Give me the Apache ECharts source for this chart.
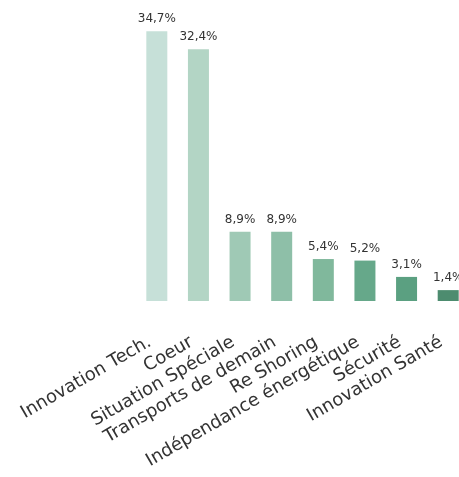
<!DOCTYPE html>
<html lang="fr">
<head>
    <meta charset="UTF-8">
    <title>Répartition</title>
    <script src="https://cdn.jsdelivr.net/npm/echarts@6/dist/echarts.min.js"></script>
    <style>
        body { margin: 0; background: #fff; }
    </style>
</head>
<body>
    <div id="main" style="width: 459px;height:477px;"></div>
    <script type="text/javascript">
        // catégories et valeurs (en %)
        var categories = ["Innovation Tech.", "Coeur", "Situation Spéciale", "Transports de demain",
            "Re Shoring", "Indépendance énergétique", "Sécurité", "Innovation Santé"];
        var values = [34.7, 32.4, 8.9, 8.9, 5.4, 5.2, 3.1, 1.4];
        var colors = ["#c6e0d8", "#b3d5c5", "#9fc9b5", "#8ebfa8", "#80b89c", "#66a88a", "#5ba081", "#4d8c6f"];

        var myChart = echarts.init(document.getElementById('main'));
        var option = {
            animation: false,
            grid: { left: 136, width: 333, top: 29, bottom: 176, outerBoundsMode: 'none' },
            xAxis: {
                type: 'category',
                data: categories,
                axisLine: { show: false },
                axisTick: { show: false },
                axisLabel: {
                    interval: 0,
                    rotate: 30,
                    margin: 36,
                    padding: [0, 8, 0, 0],
                    fontFamily: 'DejaVu Sans',
                    fontSize: 18,
                    color: '#333'
                }
            },
            yAxis: {
                type: 'value',
                min: 0,
                max: 35,
                show: false
            },
            series: [{
                type: 'bar',
                barWidth: 21,
                data: values.map(function (v, i) {
                    return { value: v, itemStyle: { color: colors[i] } };
                }),
                label: {
                    show: true,
                    position: 'top',
                    distance: 6,
                    fontFamily: 'DejaVu Sans',
                    fontSize: 12,
                    color: '#333',
                    formatter: function (p) {
                        return p.value.toFixed(1).replace('.', ',') + '%';
                    }
                }
            }]
        };
        myChart.setOption(option);
    </script>
</body>
</html>
